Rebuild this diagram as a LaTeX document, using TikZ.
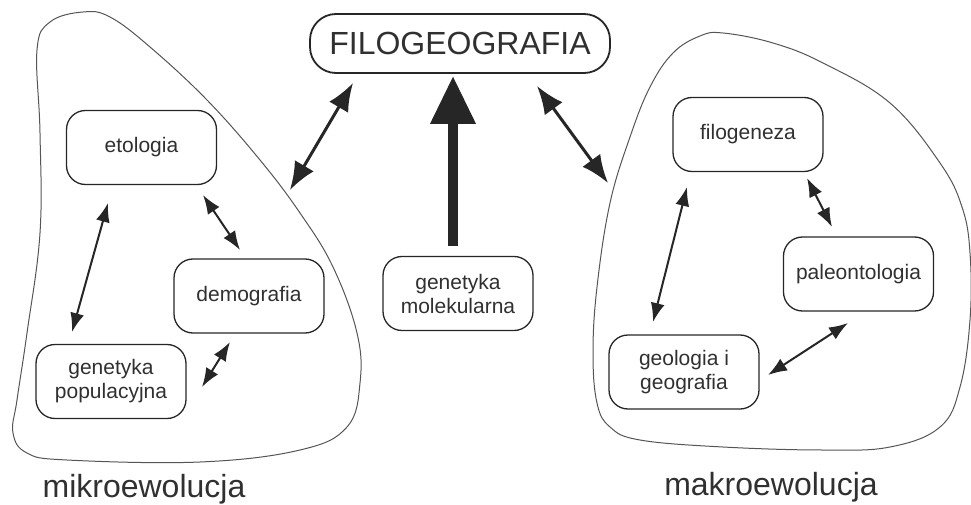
\documentclass[tikz,border=0pt]{standalone}
\usepackage{fontspec}
\setmainfont{Liberation Sans}
\usetikzlibrary{arrows.meta,calc}
\definecolor{ink}{HTML}{262626}
\definecolor{txt}{HTML}{303030}
\definecolor{blobline}{HTML}{555555}
\tikzset{
  topic/.style={draw=ink, line width=1.3pt, rounded corners=19pt, minimum width=150pt,
    minimum height=74pt, inner sep=0pt, align=center, text=txt,
    font=\fontsize{21}{24}\selectfont},
  mainbox/.style={draw=ink, line width=1.8pt, rounded corners=26pt, minimum width=300pt,
    minimum height=59pt, inner sep=0pt, text=txt, font=\fontsize{32}{36}\selectfont},
  biglabel/.style={text=txt, font=\fontsize{32}{36}\selectfont, anchor=base},
  blob/.style={draw=blobline, line width=1pt},
  smallarr/.style={ink, line width=2pt, {Latex[length=19pt,width=14pt]}-{Latex[length=19pt,width=14pt]}},
  midarr/.style={ink, line width=3pt, {Latex[length=28pt,width=22pt]}-{Latex[length=28pt,width=22pt]}},
  bigarr/.style={ink, line width=10pt, -{Triangle[length=48pt,width=43pt]}}
}
\begin{document}
\begin{tikzpicture}[x=1pt,y=-1pt]
\useasboundingbox (0,0) rectangle (971,505);
% blobs
\draw[blob] plot[smooth cycle, tension=0.65] coordinates {
  (83,12) (110,17) (150,47) (207,100) (260,160) (300,213) (333,267) (357,333)
  (360,383) (347,427) (300,450) (200,462) (67,460) (27,453) (13,433) (17,400)
  (27,333) (40,233) (40,133) (37,50) (50,22)};
\draw[blob] plot[smooth cycle, tension=0.65] coordinates {
  (723,33) (773,43) (823,63) (890,103) (940,163) (962,207) (970,253) (970,320)
  (960,387) (940,427) (890,447) (823,450) (723,447) (640,440) (610,427) (597,403)
  (593,353) (597,287) (610,203) (630,137) (650,87) (673,53) (700,36)};
% nodes
\node[mainbox] (filo) at (460,43.5) {FILOGEOGRAFIA};
\node[topic] (eto) at (141.5,147.5) {etologia};
\node[topic] (demo) at (249,296) {demografia};
\node[topic] (genpop) at (111,381.5) {genetyka\\populacyjna};
\node[topic] (genmol) at (458,293.5) {genetyka\\molekularna};
\node[topic] (filogen) at (748,134.5) {filogeneza};
\node[topic] (paleo) at (858.5,274) {paleontologia};
\node[topic] (geo) at (684,372) {geologia i\\geografia};
\node[biglabel] (mikro) at (144,497) {mikroewolucja};
\node[biglabel] (makro) at (771,495) {makroewolucja};
\coordinate (mikroTip) at (290,190);
\coordinate (makroTip) at (608,183);
% connectors
\draw[bigarr] ($(genmol.north)+(-5,-10)$) -- ($(filo.south)+(-7,2)$);
\draw[midarr] ($(filo)+(-107,39.5)$) -- (mikroTip);
\draw[midarr] ($(filo)+(77,42.5)$) -- (makroTip);
\draw[smallarr] ($(eto)+(61.5,47.5)$) -- ($(demo)+(-9,-46)$);
\draw[smallarr] ($(eto)+(-33.5,55.5)$) -- ($(genpop)+(-39,-49.5)$);
\draw[smallarr] ($(demo)+(-19,46)$) -- ($(genpop)+(91,5.5)$);
\draw[smallarr] ($(filogen)+(-61,52.5)$) -- ($(geo)+(-31,-50)$);
\draw[smallarr] ($(filogen)+(59,43.5)$) -- ($(paleo)+(-26.5,-47)$);
\draw[smallarr] ($(paleo)+(-10.5,49)$) -- ($(geo)+(84,3)$);
\end{tikzpicture}
\end{document}
